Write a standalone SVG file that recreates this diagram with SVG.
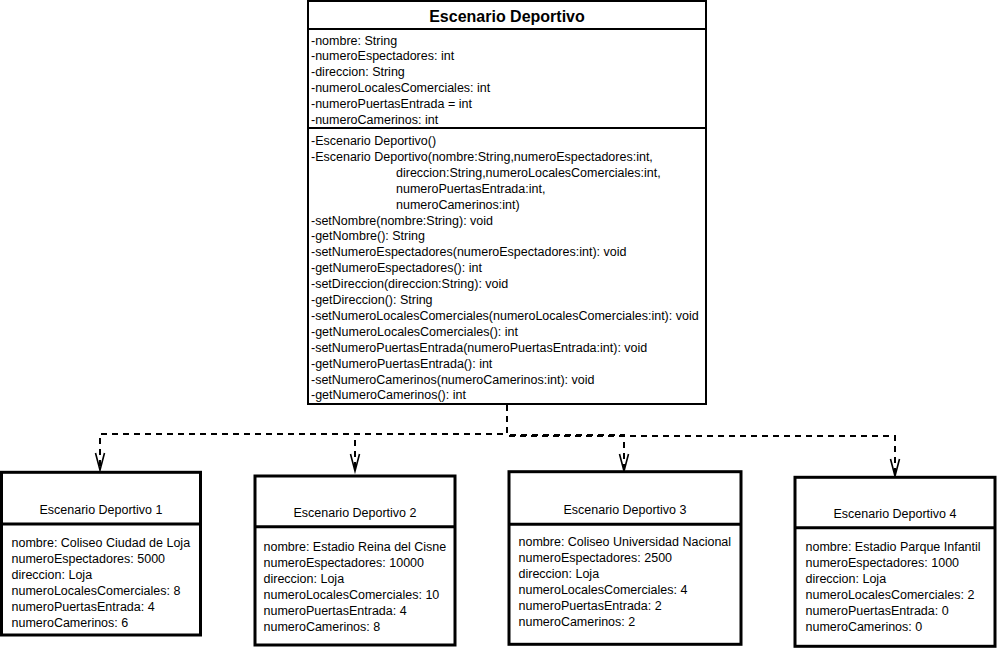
<svg xmlns="http://www.w3.org/2000/svg" width="997" height="648" viewBox="0 0 997 648">
<style>
  text { font-family: "Liberation Sans", Arial, sans-serif; font-size: 12.5px; fill: #000; }
  .title { font-size: 16px; font-weight: bold; text-anchor: middle; }
  .otitle { text-anchor: middle; }
  .cls { fill: #fff; stroke: #000; stroke-width: 2; }
  .obj { fill: #fff; stroke: #000; stroke-width: 3; }
  .div2 { stroke: #000; stroke-width: 2; }
  .div3 { stroke: #000; stroke-width: 3; }
  .dep { fill: none; stroke: #000; stroke-width: 2; stroke-dasharray: 6 5; }
</style>
<defs>
  <marker id="open" markerUnits="userSpaceOnUse" viewBox="-20 -8 22 16" markerWidth="22" markerHeight="16" refX="0" refY="0" orient="auto" overflow="visible">
    <path d="M -17 -4.5 L 0 0 L -17 4.5" fill="none" stroke="#000" stroke-width="1.6"/>
  </marker>
</defs>
<rect width="997" height="648" fill="#fff"/>

<g id="connectors">
  <path class="dep" d="M 507 405 L 507 434 L 100 434 L 100 470" marker-end="url(#open)"/>
  <path class="dep" d="M 507 405 L 507 434 L 355 434 L 355 471" marker-end="url(#open)"/>
  <path class="dep" d="M 507 405 L 507 435 L 624 435 L 624 471" marker-end="url(#open)"/>
  <path class="dep" d="M 507 405 L 507 436 L 895 436 L 895 476" marker-end="url(#open)"/>
</g>

<g id="EscenarioDeportivo">
  <rect class="cls" x="308" y="1" width="398" height="403"/>
  <line class="div2" x1="308" y1="29" x2="706" y2="29"/>
  <line class="div2" x1="308" y1="128" x2="706" y2="128"/>
  <text class="title" x="507" y="21.5">Escenario Deportivo</text>
  <text x="311" y="44.5">-nombre: String</text>
  <text x="311" y="60.4">-numeroEspectadores: int</text>
  <text x="311" y="76.3">-direccion: String</text>
  <text x="311" y="92.2">-numeroLocalesComerciales: int</text>
  <text x="311" y="108.1">-numeroPuertasEntrada = int</text>
  <text x="311" y="124">-numeroCamerinos: int</text>
  <text x="311" y="145">-Escenario Deportivo()</text>
  <text x="311" y="160.9">-Escenario Deportivo(nombre:String,numeroEspectadores:int,</text>
  <text x="396" y="176.8">direccion:String,numeroLocalesComerciales:int,</text>
  <text x="396" y="192.7">numeroPuertasEntrada:int,</text>
  <text x="396" y="208.6">numeroCamerinos:int)</text>
  <text x="311" y="224.5">-setNombre(nombre:String): void</text>
  <text x="311" y="240.4">-getNombre(): String</text>
  <text x="311" y="256.3">-setNumeroEspectadores(numeroEspectadores:int): void</text>
  <text x="311" y="272.2">-getNumeroEspectadores(): int</text>
  <text x="311" y="288.1">-setDireccion(direccion:String): void</text>
  <text x="311" y="304">-getDireccion(): String</text>
  <text x="311" y="319.9">-setNumeroLocalesComerciales(numeroLocalesComerciales:int): void</text>
  <text x="311" y="335.8">-getNumeroLocalesComerciales(): int</text>
  <text x="311" y="351.7">-setNumeroPuertasEntrada(numeroPuertasEntrada:int): void</text>
  <text x="311" y="367.6">-getNumeroPuertasEntrada(): int</text>
  <text x="311" y="383.5">-setNumeroCamerinos(numeroCamerinos:int): void</text>
  <text x="311" y="399.4">-getNumeroCamerinos(): int</text>
</g>

<g id="EscenarioDeportivo1">
  <rect class="obj" x="1.5" y="472.3" width="199" height="162.7"/>
  <line class="div3" x1="1.5" y1="524" x2="200.5" y2="524"/>
  <text class="otitle" x="101" y="513.5">Escenario Deportivo 1</text>
  <text x="11.5" y="547">nombre: Coliseo Ciudad de Loja</text>
  <text x="11.5" y="563">numeroEspectadores: 5000</text>
  <text x="11.5" y="579">direccion: Loja</text>
  <text x="11.5" y="595">numeroLocalesComerciales: 8</text>
  <text x="11.5" y="611">numeroPuertasEntrada: 4</text>
  <text x="11.5" y="627">numeroCamerinos: 6</text>
</g>

<g id="EscenarioDeportivo2">
  <rect class="obj" x="255" y="476" width="200" height="169"/>
  <line class="div3" x1="255" y1="526.7" x2="455" y2="526.7"/>
  <text class="otitle" x="355" y="517">Escenario Deportivo 2</text>
  <text x="263.5" y="550.5">nombre: Estadio Reina del Cisne</text>
  <text x="263.5" y="566.5">numeroEspectadores: 10000</text>
  <text x="263.5" y="582.5">direccion: Loja</text>
  <text x="263.5" y="598.5">numeroLocalesComerciales: 10</text>
  <text x="263.5" y="614.5">numeroPuertasEntrada: 4</text>
  <text x="263.5" y="630.5">numeroCamerinos: 8</text>
</g>

<g id="EscenarioDeportivo3">
  <rect class="obj" x="509" y="471.7" width="232" height="172.6"/>
  <line class="div3" x1="509" y1="524.3" x2="741" y2="524.3"/>
  <text class="otitle" x="625" y="513.5">Escenario Deportivo 3</text>
  <text x="518.5" y="546">nombre: Coliseo Universidad Nacional</text>
  <text x="518.5" y="562">numeroEspectadores: 2500</text>
  <text x="518.5" y="578">direccion: Loja</text>
  <text x="518.5" y="594">numeroLocalesComerciales: 4</text>
  <text x="518.5" y="610">numeroPuertasEntrada: 2</text>
  <text x="518.5" y="626">numeroCamerinos: 2</text>
</g>

<g id="EscenarioDeportivo4">
  <rect class="obj" x="795" y="477.3" width="200" height="169"/>
  <line class="div3" x1="795" y1="527.7" x2="995" y2="527.7"/>
  <text class="otitle" x="895" y="517.5">Escenario Deportivo 4</text>
  <text x="805.5" y="551">nombre: Estadio Parque Infantil</text>
  <text x="805.5" y="567">numeroEspectadores: 1000</text>
  <text x="805.5" y="583">direccion: Loja</text>
  <text x="805.5" y="599">numeroLocalesComerciales: 2</text>
  <text x="805.5" y="615">numeroPuertasEntrada: 0</text>
  <text x="805.5" y="631">numeroCamerinos: 0</text>
</g>
</svg>
